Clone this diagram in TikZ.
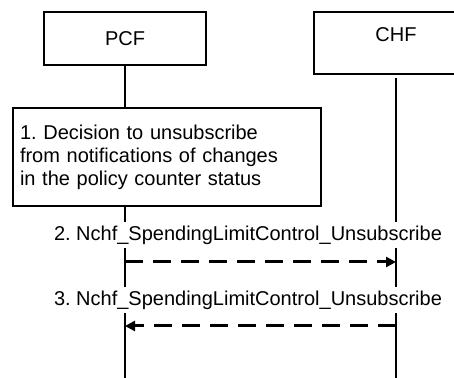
\documentclass[tikz,border=0pt]{standalone}
\usepackage{fontspec}
\setmainfont{Liberation Sans}
\usetikzlibrary{arrows.meta}
\frenchspacing

\begin{document}
\begin{tikzpicture}[x=0.5pt,y=-0.5pt,font=\fontsize{10}{11.5}\selectfont,
  entity/.style={draw,line width=.6pt,fill=white},
  msg/.style={line width=1.5pt,dash pattern=on 9pt off 5pt,-{Triangle[length=5pt,width=5pt]}},
  msglabel/.style={fill=white,inner sep=2pt}]
\useasboundingbox (0,0) rectangle (454,378);
% lifelines
\coordinate (pcftop) at (125,65);
\coordinate (pcfend) at (125,378);
\coordinate (chftop) at (396,78);
\coordinate (chfend) at (396,378);
\draw[line width=.6pt] (pcftop) -- (pcfend);
\draw[line width=.6pt] (chftop) -- (chfend);
% entities
\node[entity,minimum width=81pt,minimum height=26.5pt] (pcf) at (125,38.5) {PCF};
\node[entity,minimum width=82pt,minimum height=31pt,text depth=8pt] (chf) at (396,43) {CHF};
% step 1
\node[entity,minimum width=154pt,minimum height=49pt,text width=147pt,align=left,inner sep=3.5pt] (decide) at (167,157)
  {1. Decision to unsubscribe\\from notifications of changes\\in the policy counter status};
% messages
\node[msglabel] (m2) at (248,235) {2. Nchf\_SpendingLimitControl\_Unsubscribe};
\coordinate (m2from) at (125,262);
\coordinate (m2to) at (396,262);
\draw[msg] (m2from) -- (m2to);
\node[msglabel] (m3) at (248,300) {3. Nchf\_SpendingLimitControl\_Unsubscribe};
\coordinate (m3from) at (396,326);
\coordinate (m3to) at (125,326);
\draw[msg] (m3from) -- (m3to);
\end{tikzpicture}
\end{document}
